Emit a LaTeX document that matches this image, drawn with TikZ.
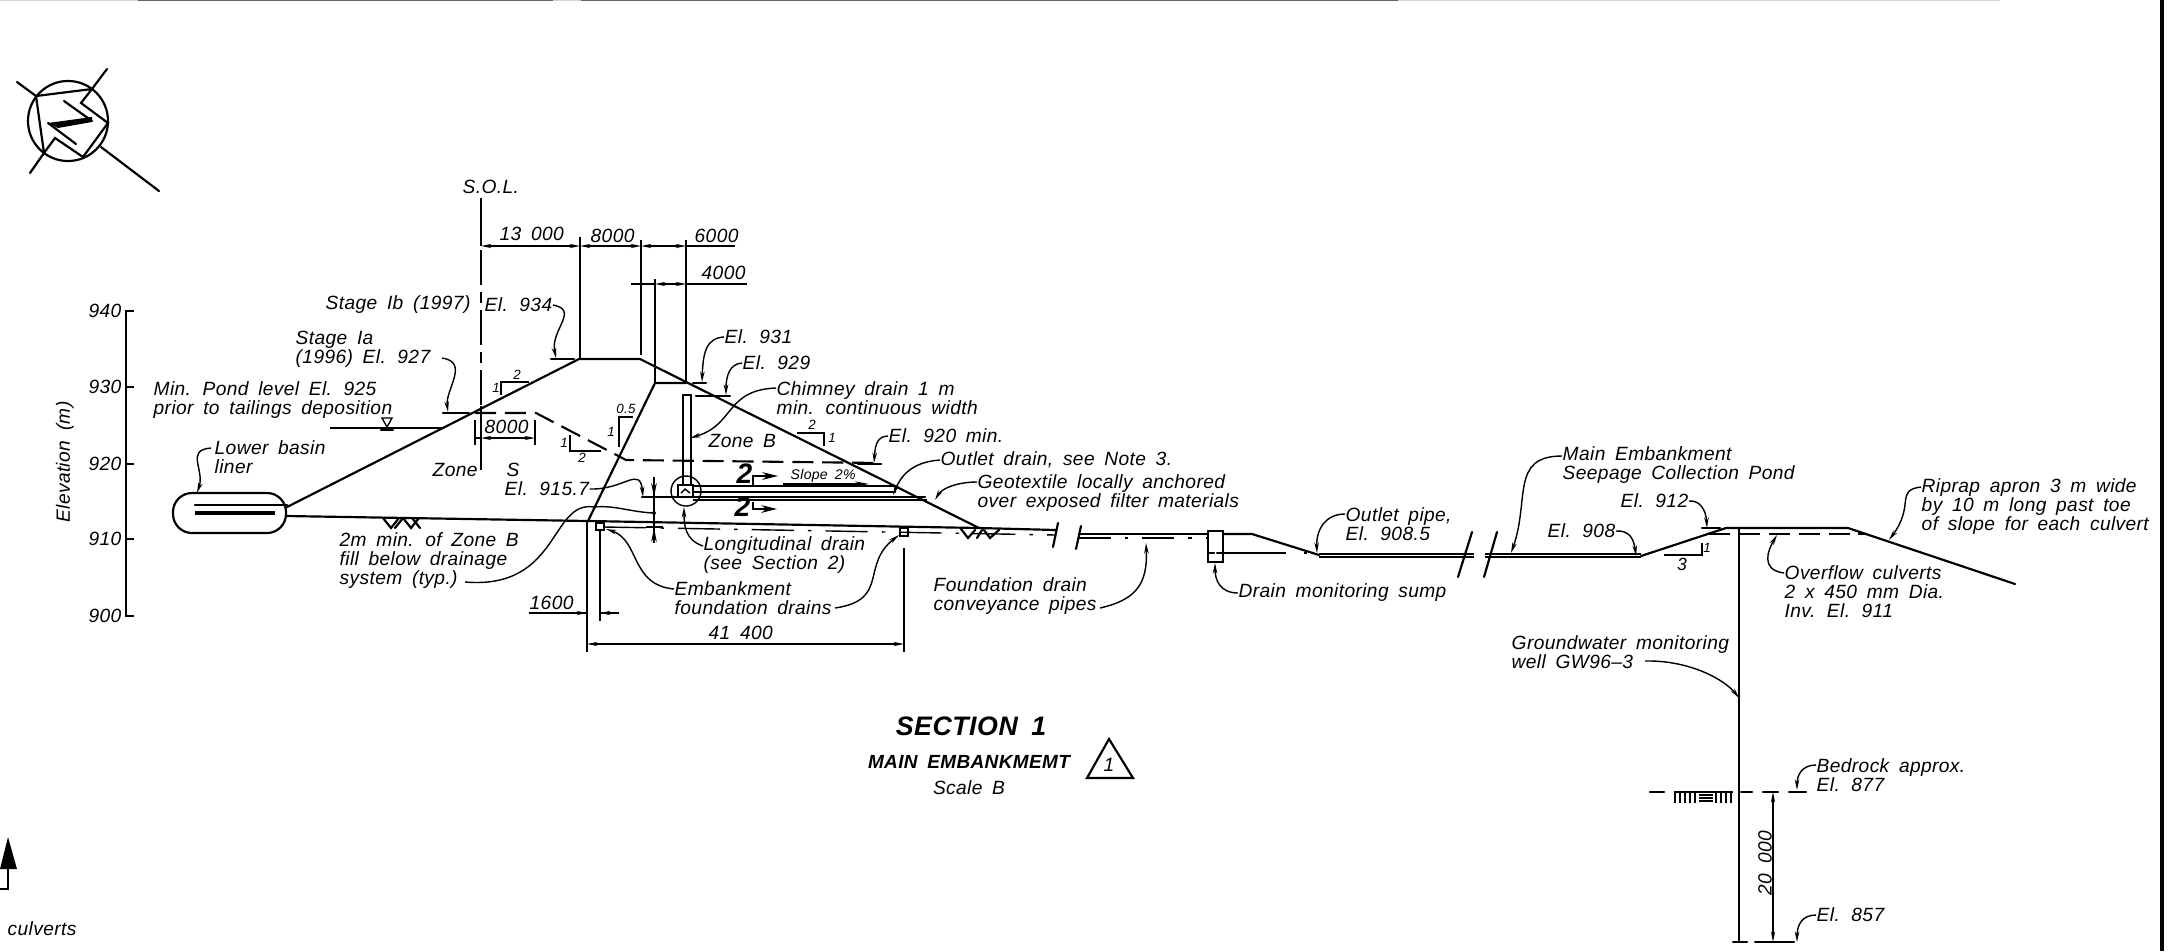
\documentclass[tikz,border=0pt]{standalone}
\usepackage{fontspec}
\setmainfont{Liberation Sans}[LetterSpace=2,WordSpace=1.7]
\usetikzlibrary{arrows.meta,positioning,calc,shapes.geometric}

\tikzset{
    mainline/.style={line width=0.62pt,line cap=round},
    thinline/.style={line width=0.4pt},
    leader/.style={line width=0.4pt,-{Stealth[length=3pt,width=1.3pt]}},
    dimline/.style={line width=0.4pt,{Stealth[length=3pt,width=1.2pt]}-{Stealth[length=3pt,width=1.2pt]}},
    cutline/.style={line width=0.6pt,dash pattern=on 6pt off 2.5pt},
    lbl/.style={font=\itshape\fontsize{5.45}{5.4}\selectfont,inner sep=0pt,align=left,anchor=west},
    ratiotxt/.style={font=\itshape\fontsize{3.8}{4}\selectfont,inner sep=0pt},
    sectip/.style={-{Stealth[length=4.5pt,width=2.2pt]}},
}

\begin{document}
\begin{tikzpicture}[x=0.01cm,y=-0.01cm]
    \useasboundingbox (0,0) rectangle (2170,951);

    % Sheet edges
    \draw[gray!35,line width=0.3pt] (0,0.5) -- (2000,0.5);
    \draw[black!60,line width=0.5pt] (138,0.5) -- (553,0.5) (581,0.5) -- (1398,0.5);
    \draw[line width=1.1pt] (2162,0) -- (2162,951);

    % North arrow
    \draw[mainline] (68,121) circle [radius=0.4cm];
    \draw[mainline] (36,96) -- (92,89) -- (81,103) -- (108,123) -- (83,157) -- (55,138) -- (44,153) -- cycle;
    \draw[mainline] (17,82) -- (36,96) (107,69) -- (92,89) (30,173) -- (44,153) (101,147) -- (159,191);
    \draw[mainline] (64,101) -- (92,121) (48,123) -- (76,144);
    \fill (48,123) -- (92,117) -- (92,122) -- (58,128) -- cycle;

    % Elevation axis
    \draw[thinline] (134,311) -- (126,311) -- (126,616) -- (134,616);
    \foreach \yy/\val in {311/940,387/930,464/920,539/910,616/900} {
        \draw[thinline] (126,\yy) -- (134,\yy);
        \node[lbl,anchor=east] (ax\val) at (122,\yy) {\val};
    }
    \node[lbl,rotate=90,anchor=center] (axtitle) at (65,462) {Elevation (m)};

    % Basin liner
    \draw[mainline,rounded corners=0.19cm] (173,493) rectangle (286,533);
    \draw[mainline] (195,505) -- (287,505);
    \draw[line width=1.1pt] (195,513) -- (275,513);

    % Embankment profile
    \draw[mainline] (287,507) -- (579,359) -- (640,359) -- (979,528);
    \draw[mainline] (286,516) -- (588,521) -- (655,383) -- (686,383);
    \draw[mainline] (588,521) -- (979,528) -- (1056,530);
    \draw[cutline] (475,413) -- (536,413) -- (626,460) -- (881,463);
    \draw[thinline,dash pattern=on 12pt off 4pt on 1pt off 4pt] (604,527) -- (1056,535);
    \draw[mainline] (383,518) -- (391,528) -- (399,518) (395,528) -- (403,518) (403,518) -- (411,528) -- (419,518) (412,518) -- (420,528);
    \draw[mainline] (961,529) -- (968,538) -- (975,530) (977,538) -- (982,530) (984,530) -- (990,538) -- (999,530);

    % Chimney and longitudinal drains
    \draw[mainline] (683,485) -- (683,395) -- (691,395) -- (691,485);
    \draw[mainline] (678,485) rectangle (693,497);
    \draw[thinline] (686,491) circle [radius=0.15cm];
    \draw[thinline] (681,493) -- (685,489) -- (690,493);
    \draw[mainline] (693,486) -- (895,486) -- (895,492) -- (693,492);
    \draw[mainline] (642,497) -- (678,497) (693,497) -- (925,497);
    \draw[thinline] (693,500) -- (927,500);

    % Foundation drains
    \draw[thinline] (596,523) rectangle (604,530);
    \draw[thinline] (900,528) rectangle (908,536);

    % Section marks and slope
    \node[lbl,font=\bfseries\itshape\fontsize{8}{8}\selectfont] (sec2a) at (736,474) {2};
    \node[lbl,font=\bfseries\itshape\fontsize{8}{8}\selectfont] (sec2b) at (734,507) {2};
    \draw[thinline,sectip] (753,485) -- (753,476) -- (778,476);
    \draw[thinline,sectip] (753,502) -- (753,509) -- (777,509);
    \node[lbl,font=\itshape\fontsize{4}{4}\selectfont] (slope) at (790,476) {Slope 2\%};
    \draw[thinline,-{Stealth[length=4pt,width=1.5pt]}] (783,484) -- (869,484);

    % Centreline
    \draw[thinline] (481,198) -- (481,246);
    \draw[thinline,dash pattern=on 10pt off 2pt on 3pt off 2pt] (481,250) -- (481,406);
    \draw[thinline] (481,406) -- (481,470);
    \node[lbl] (sol) at (462,187) {S.O.L.};

    % Top dimensions
    \draw[thinline] (580,237) -- (580,359) (641,240) -- (641,355) (686,240) -- (686,383) (655,279) -- (655,383);
    \draw[dimline] (481,246) -- (580,246);
    \draw[dimline] (580,246) -- (641,246);
    \draw[dimline] (641,246) -- (686,246);
    \draw[thinline] (686,246) -- (735,246);
    \draw[dimline] (655,284) -- (686,284);
    \draw[thinline] (631,284) -- (655,284) (686,284) -- (747,284);
    \node[lbl] (d13000) at (499,234) {13 000};
    \node[lbl] (d8000a) at (590,236) {8000};
    \node[lbl] (d6000) at (694,236) {6000};
    \node[lbl] (d4000) at (701,273) {4000};

    % Crest width dimension
    \draw[thinline] (475,420) -- (475,445) (535,420) -- (535,445);
    \draw[dimline] (481,438) -- (535,438);
    \draw[thinline] (475,438) -- (481,438);
    \node[lbl] (d8000b) at (484,427) {8000};

    % Bottom dimensions
    \draw[thinline] (587,521) -- (587,652) (904,548) -- (904,652) (600,529) -- (600,621);
    \draw[dimline] (587,644) -- (904,644);
    \draw[thinline] (529,613) -- (587,613) (600,613) -- (619,613);
    \draw[-{Stealth[length=3pt,width=1.2pt]},thinline] (570,613) -- (587,613);
    \draw[-{Stealth[length=3pt,width=1.2pt]},thinline] (619,613) -- (600,613);
    \node[lbl] (d1600) at (529,603) {1600};
    \node[lbl] (d41400) at (708,633) {41 400};

    % Fill thickness marks
    \draw[thinline] (654,477) -- (654,543) (646,527) -- (663,527);
    \draw[-{Stealth[length=4pt,width=1.6pt]},thinline] (654,480) -- (654,497);
    \draw[-{Stealth[length=4pt,width=1.6pt]},thinline] (654,543) -- (654,528);
    \fill (654,513) circle [radius=0.02cm];

    % Slope ratios
    \draw[thinline] (501,395) -- (501,382) -- (529,382);
    \node[ratiotxt] (r1a) at (496,388) {1};
    \node[ratiotxt] (r2a) at (517,375) {2};
    \draw[thinline] (570,435) -- (570,451) -- (601,451);
    \node[ratiotxt] (r1b) at (564,443) {1};
    \node[ratiotxt] (r2b) at (582,458) {2};
    \draw[thinline] (619,447) -- (619,417) -- (633,417);
    \node[ratiotxt] (r1c) at (611,432) {1};
    \node[ratiotxt] (r05) at (626,409) {0.5};
    \draw[thinline] (797,433) -- (824,433) -- (824,446);
    \node[ratiotxt] (r2d) at (812,425) {2};
    \node[ratiotxt] (r1d) at (832,438) {1};
    \draw[thinline] (1664,555) -- (1702,555) -- (1702,543);
    \node[ratiotxt] (r1e) at (1707,548) {1};
    \node[ratiotxt,font=\itshape\fontsize{5}{5}\selectfont] (r3e) at (1682,564) {3};

    % Water level
    \draw[thinline] (330,428) -- (444,428);
    \draw[thinline] (382,418) -- (392,418) -- (387,427) -- cycle;
    \draw[mainline] (381,430) -- (393,430);

    % Elevation ticks
    \draw[mainline] (551,359) -- (574,359) (443,413) -- (469,413) (693,383) -- (706,383);
    \draw[mainline] (696,396) -- (730,396) (858,464) -- (881,464);
    \draw[mainline] (1702,528) -- (1720,528);

    % Conveyance line
    \draw[mainline] (1058,523) -- (1053,547) (1081,526) -- (1076,549);
    \draw[mainline] (1079,534) -- (1208,534);
    \draw[thinline,dash pattern=on 9pt off 4pt on 1pt off 4pt] (1079,538) -- (1208,538);
    \draw[mainline] (1208,531) rectangle (1223,562);
    \draw[mainline] (1209,553) -- (1214,553) (1217,553) -- (1222,553);
    \draw[mainline] (1223,534) -- (1252,534) -- (1319,555);
    \draw[thinline,dash pattern=on 18pt off 5pt on 1pt off 5pt] (1223,553) -- (1319,553);
    \draw[thinline] (1319,554) -- (1474,554) (1319,557) -- (1474,557);
    \draw[mainline] (1472,532) -- (1458,577) (1497,532) -- (1484,577);

    % Seepage pond and culvert
    \draw[thinline] (1485,554) -- (1641,554) (1485,557) -- (1641,557);
    \draw[mainline] (1641,556) -- (1726,528) -- (1848,528) -- (2015,584);
    \draw[cutline] (1709,534) -- (1867,534);

    % Monitoring well
    \draw[mainline] (1739,528) -- (1739,942);
    \draw[mainline] (1733,942) -- (1747,942) (1755,942) -- (1794,942);
    \draw[mainline] (1650,792) -- (1664,792) (1741,792) -- (1752,792) (1763,792) -- (1778,792) (1789,792) -- (1806,792);
    \draw[thinline] (1674,792) -- (1733,792);
    \foreach \xx in {1675,1680,1685,1690,1695,1716,1721,1726,1731} {
        \draw[thinline] (\xx,792) -- (\xx,803);
    }
    \draw[thinline] (1699,795) -- (1713,795) (1699,798) -- (1713,798) (1699,801) -- (1713,801);
    \draw[dimline] (1773,792) -- (1773,942);
    \node[lbl,rotate=90,anchor=center] (d20000) at (1765,863) {20 000};

    % Labels
    \node[lbl] (stageIb) at (325,305) {Stage Ib (1997)};
    \node[lbl] (el934) at (484,305) {El. 934};
    \node[lbl] (stageIa) at (295,349) {Stage Ia\\(1996) El. 927};
    \node[lbl] (pond) at (153,400) {Min. Pond level El. 925\\prior to tailings deposition};
    \node[lbl] (liner) at (214,457) {Lower basin\\liner};
    \node[lbl] (zoneB) at (708,441) {Zone B};
    \node[lbl] (zoneS) at (432,470) {Zone\ \ \ S};
    \node[lbl] (el9157) at (504,489) {El. 915.7};
    \node[lbl] (zoneBfill) at (339,561) {2m min. of Zone B\\fill below drainage\\system (typ.)};
    \node[lbl] (el931) at (724,337) {El. 931};
    \node[lbl] (el929) at (742,363) {El. 929};
    \node[lbl] (chimney) at (776,398) {Chimney drain 1 m\\min. continuous width};
    \node[lbl] (el920) at (888,436) {El. 920 min.};
    \node[lbl] (outlet) at (940,460) {Outlet drain, see Note 3.};
    \node[lbl] (geotex) at (977,493) {Geotextile locally anchored\\over exposed filter materials};
    \node[lbl] (longdrain) at (703,555) {Longitudinal drain\\(see Section 2)};
    \node[lbl] (fdrains) at (674,598) {Embankment\\foundation drains};
    \node[lbl] (fpipes) at (933,596) {Foundation drain\\conveyance pipes};
    \node[lbl] (sump) at (1238,593) {Drain monitoring sump};
    \node[lbl] (pipe) at (1345,524) {Outlet pipe,\\El. 908.5};
    \node[lbl] (pondname) at (1562,465) {Main Embankment\\Seepage Collection Pond};
    \node[lbl] (el908) at (1547,531) {El. 908};
    \node[lbl] (el912) at (1620,501) {El. 912};
    \node[lbl] (riprap) at (1921,507) {Riprap apron 3 m wide\\by 10 m long past toe\\of slope for each culvert};
    \node[lbl] (overflow) at (1784,592) {Overflow culverts\\2 x 450 mm Dia.\\Inv. El. 911};
    \node[lbl] (gwell) at (1511,652) {Groundwater monitoring\\well GW96--3};
    \node[lbl] (bedrock) at (1816,775) {Bedrock approx.\\El. 877};
    \node[lbl] (el857) at (1816,915) {El. 857};

    % Leader targets
    \coordinate (tliner) at (197,493);
    \coordinate (t934) at (556,358);
    \coordinate (t927) at (448,412);
    \coordinate (t931) at (702,382);
    \coordinate (t929) at (726,395);
    \coordinate (tchim) at (690,438);
    \coordinate (t920) at (874,463);
    \coordinate (toutlet) at (893,495);
    \coordinate (tgeo) at (935,500);
    \coordinate (t9157) at (643,497);
    \coordinate (tfill) at (654,513);
    \coordinate (tlong) at (684,507);
    \coordinate (tdrainL) at (606,529);
    \coordinate (tdrainR) at (899,535);
    \coordinate (tpipes) at (1146,543);
    \coordinate (tsump) at (1215,563);
    \coordinate (tpipe) at (1317,553);
    \coordinate (tpond) at (1511,553);
    \coordinate (t908) at (1636,556);
    \coordinate (t912) at (1707,528);
    \coordinate (triprap) at (1889,540);
    \coordinate (tover) at (1777,535);
    \coordinate (twell) at (1739,698);
    \coordinate (tbed) at (1797,790);
    \coordinate (t857) at (1797,942);

    % Leaders
    \draw[leader] (liner.west |- 0,448) ++(-3,0) .. controls (185,450) and (205,470) .. (tliner);
    \draw[leader] (el934.east) .. controls (580,310) and (550,330) .. (t934);
    \draw[leader] (442,358) .. controls (470,362) and (445,390) .. (t927);
    \draw[leader] (el931.west) .. controls (705,338) and (703,355) .. (t931);
    \draw[leader] (el929.west) .. controls (730,364) and (726,375) .. (t929);
    \draw[leader] (chimney.west |- 0,388) .. controls (725,390) and (735,425) .. (tchim);
    \draw[leader] (el920.west) .. controls (875,436) and (875,450) .. (t920);
    \draw[leader] (outlet.west) .. controls (910,462) and (900,478) .. (toutlet);
    \draw[leader] (geotex.west |- 0,482) .. controls (958,482) and (942,488) .. (tgeo);
    \draw[leader] (el9157.east) .. controls (625,490) and (640,465) .. (t9157);
    \draw[thinline] (465,582) .. controls (560,590) and (550,500) .. (594,507) .. controls (615,505) and (630,512) .. (tfill);
    \draw[leader] (longdrain.west |- 0,546) .. controls (685,540) and (684,525) .. (tlong);
    \draw[leader] (fdrains.west |- 0,589) .. controls (630,585) and (640,540) .. (tdrainL);
    \draw[leader] (835,608) .. controls (890,600) and (860,565) .. (tdrainR);
    \draw[leader] (1100,608) .. controls (1135,600) and (1148,585) .. (tpipes);
    \draw[leader] (sump.west) .. controls (1220,593) and (1215,580) .. (tsump);
    \draw[leader] (pipe.west |- 0,514) .. controls (1325,514) and (1316,530) .. (tpipe);
    \draw[leader] (pondname.west |- 0,456) .. controls (1510,456) and (1530,500) .. (tpond);
    \draw[leader] (el908.east) .. controls (1630,530) and (1634,540) .. (t908);
    \draw[leader] (el912.east) .. controls (1700,500) and (1706,510) .. (t912);
    \draw[leader] (riprap.west |- 0,487) .. controls (1895,490) and (1915,505) .. (triprap);
    \draw[leader] (overflow.west |- 0,573) .. controls (1760,570) and (1768,550) .. (tover);
    \draw[leader] (1645,661) .. controls (1690,660) and (1725,680) .. (twell);
    \draw[leader] (bedrock.west |- 0,765) .. controls (1802,765) and (1797,775) .. (tbed);
    \draw[leader] (el857.west) .. controls (1802,915) and (1797,925) .. (t857);

    % Title
    \node[lbl,anchor=center,font=\bfseries\itshape\fontsize{7.6}{8}\selectfont] (title) at (971,726) {SECTION 1};
    \node[lbl,anchor=center,font=\bfseries\itshape\fontsize{5.4}{6}\selectfont] (subtitle) at (969,762) {MAIN EMBANKMEMT};
    \node[lbl,anchor=center] (scale) at (969,788) {Scale B};
    \draw[mainline] (1109,739) -- (1087,778) -- (1133,778) -- cycle;
    \node[lbl,anchor=center] (rev) at (1109,765) {1};

    % Corner arrow
    \fill (8,837) -- (0,869) -- (17,869) -- cycle;
    \draw[line width=0.7pt] (8,869) -- (8,889) -- (0,889);
    \node[lbl] (corner) at (7,929) {culverts};
\end{tikzpicture}
\end{document}
